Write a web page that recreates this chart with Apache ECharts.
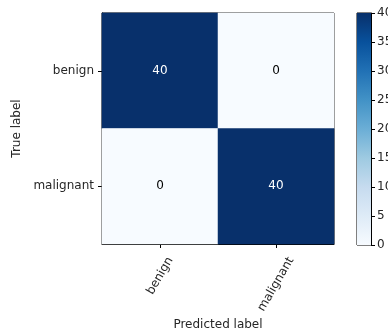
<!DOCTYPE html>
<html>
<head>
<meta charset="utf-8">
<script src="https://cdn.jsdelivr.net/npm/echarts@6/dist/echarts.min.js"></script>
<style>
  html, body { margin: 0; padding: 0; background: #fff; }
  #chart { width: 388px; height: 331px; }
</style>
</head>
<body>
<div id="chart"></div>
<script>
// Confusion matrix: rows = true label, columns = predicted label
const classes = ['benign', 'malignant'];
const matrix = [
  [40, 0],
  [0, 40]
];
const colorbarTicks = [0, 5, 10, 15, 20, 25, 30, 35, 40];
const xTitle = 'Predicted label';
const yTitle = 'True label';

// Matplotlib "Blues" colormap stops
const blues = ['#f7fbff', '#deebf7', '#c6dbef', '#9ecae1', '#6baed6',
               '#4292c6', '#2171b5', '#08519c', '#08306b'];

const vmin = colorbarTicks[0];
const vmax = colorbarTicks[colorbarTicks.length - 1];
const thresh = vmax / 2;

const cells = [];
matrix.forEach((row, i) => {
  row.forEach((v, j) => {
    cells.push({
      value: [j, i, v],
      label: { color: v > thresh ? '#ffffff' : '#000000' }
    });
  });
});

const font = 'DejaVu Sans';
const fontSize = 12;
const textColor = '#262626';

// plot frame
const plot = { left: 102, top: 13, width: 232, height: 231 };
const xLabelRotate = 60;   // degrees, counter-clockwise
const xLabelTopGap = 11;   // space between frame bottom and the rotated label boxes

const chart = echarts.init(document.getElementById('chart'), null, { renderer: 'canvas' });
chart.setOption({
  animation: false,
  backgroundColor: '#ffffff',
  textStyle: { fontFamily: font },
  grid: [
    { left: plot.left, top: plot.top, width: plot.width, height: plot.height, show: true,
      outerBoundsMode: 'none',
      borderColor: '#000', borderWidth: 1, backgroundColor: 'transparent' },
    { left: 357, top: 13, width: 14, height: 232, show: true,
      outerBoundsMode: 'none',
      borderColor: '#000', borderWidth: 1, backgroundColor: 'transparent' }
  ],
  visualMap: {
    show: false,
    min: vmin,
    max: vmax,
    dimension: 2,
    seriesIndex: 0,
    inRange: { color: blues }
  },
  xAxis: [
    {
      gridIndex: 0,
      type: 'category',
      data: classes,
      name: xTitle,
      nameLocation: 'middle',
      nameGap: 75,
      nameTextStyle: { fontFamily: font, fontSize: fontSize, color: textColor },
      axisLine: { show: true, lineStyle: { color: '#000' } },
      axisTick: { show: true, alignWithLabel: true, length: 4, lineStyle: { color: '#000' } },
      // tick labels are drawn below as rotated, centred text
      axisLabel: { show: false },
      splitLine: { show: false }
    },
    {
      gridIndex: 1,
      type: 'category',
      data: [''],
      axisLine: { show: false },
      axisTick: { show: false },
      axisLabel: { show: false }
    }
  ],
  yAxis: [
    {
      gridIndex: 0,
      type: 'category',
      data: classes,
      inverse: true,
      name: yTitle,
      nameLocation: 'middle',
      nameRotate: 90,
      nameGap: 78,
      nameTextStyle: { fontFamily: font, fontSize: fontSize, color: textColor },
      axisLine: { show: true, lineStyle: { color: '#000' } },
      axisTick: { show: true, alignWithLabel: true, length: 4, lineStyle: { color: '#000' } },
      axisLabel: { fontFamily: font, fontSize: fontSize, color: textColor, margin: 8 },
      splitLine: { show: false }
    },
    {
      gridIndex: 1,
      type: 'value',
      position: 'right',
      min: vmin,
      max: vmax,
      interval: 5,
      axisLine: { show: true, lineStyle: { color: '#000' } },
      axisTick: { show: true, length: 4, lineStyle: { color: '#000' } },
      axisLabel: { fontFamily: font, fontSize: fontSize, color: textColor, margin: 6 },
      splitLine: { show: false }
    }
  ],
  series: [
    {
      type: 'heatmap',
      xAxisIndex: 0,
      yAxisIndex: 0,
      data: cells,
      label: { show: true, fontFamily: font, fontSize: fontSize },
      itemStyle: { borderWidth: 0 },
      emphasis: { disabled: true }
    },
    {
      // colorbar: one bar spanning the full value range, filled with the colormap
      type: 'bar',
      xAxisIndex: 1,
      yAxisIndex: 1,
      data: [vmax],
      barWidth: '100%',
      silent: true,
      itemStyle: {
        color: new echarts.graphic.LinearGradient(0, 1, 0, 0,
          blues.map((c, i) => ({ offset: i / (blues.length - 1), color: c })))
      }
    }
  ]
});

// Rotated x tick labels whose bounding boxes are centred under each tick
const ctx = document.createElement('canvas').getContext('2d');
ctx.font = fontSize + 'px "' + font + '"';
const rad = xLabelRotate * Math.PI / 180;
const lineH = fontSize;
const boxTop = plot.top + plot.height + xLabelTopGap;
const xLabels = classes.map((name, idx) => {
  const tx = chart.convertToPixel({ xAxisIndex: 0 }, idx);
  const L = ctx.measureText(name).width;
  const boxH = L * Math.sin(rad) + lineH * Math.cos(rad);
  return {
    type: 'text',
    x: tx,
    y: boxTop + boxH / 2,
    rotation: rad,
    silent: true,
    style: {
      text: name,
      font: fontSize + 'px "' + font + '"',
      fill: textColor,
      align: 'center',
      verticalAlign: 'middle'
    }
  };
});
chart.setOption({ graphic: xLabels });
</script>
</body>
</html>
